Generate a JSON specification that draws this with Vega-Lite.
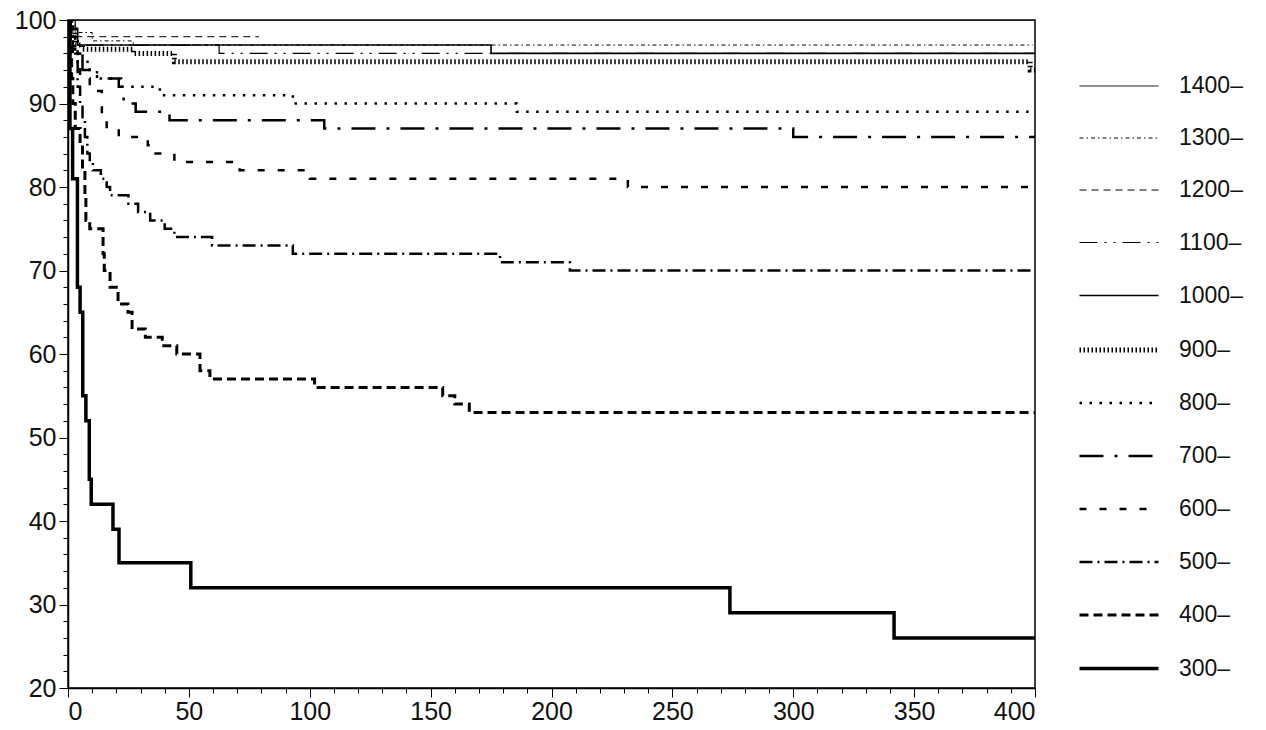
{
  "$schema": "https://vega.github.io/schema/vega-lite/v6.json",
  "width": 967,
  "height": 668,
  "autosize": {"type": "none"},
  "padding": {"left": 68, "top": 20, "right": 231, "bottom": 42},
  "background": "white",
  "config": {
    "view": {"stroke": "black", "strokeWidth": 1.5},
    "axis": {
      "domainColor": "black",
      "domainWidth": 1.5,
      "tickColor": "black",
      "labelColor": "#111",
      "labelFont": "Liberation Sans",
      "labelFontSize": 25,
      "grid": false,
      "title": null,
      "labelOverlap": false
    }
  },
  "data": {
    "values": [
      {"g": "1400–", "x": 0, "y": 100}, {"g": "1400–", "x": 400, "y": 100},
      {"g": "1300–", "x": 0, "y": 100}, {"g": "1300–", "x": 3, "y": 98.5}, {"g": "1300–", "x": 10, "y": 97.5}, {"g": "1300–", "x": 27, "y": 97}, {"g": "1300–", "x": 399, "y": 97},
      {"g": "1200–", "x": 0, "y": 100}, {"g": "1200–", "x": 2, "y": 98}, {"g": "1200–", "x": 79, "y": 98},
      {"g": "1100–", "x": 0, "y": 100}, {"g": "1100–", "x": 3, "y": 97}, {"g": "1100–", "x": 62.5, "y": 96}, {"g": "1100–", "x": 400, "y": 96},
      {"g": "1000–", "x": 0, "y": 100}, {"g": "1000–", "x": 1, "y": 99}, {"g": "1000–", "x": 4, "y": 97}, {"g": "1000–", "x": 175, "y": 96}, {"g": "1000–", "x": 400, "y": 96},
      {"g": "900–", "x": 0, "y": 100}, {"g": "900–", "x": 1, "y": 99}, {"g": "900–", "x": 3, "y": 97}, {"g": "900–", "x": 6, "y": 96.5}, {"g": "900–", "x": 27, "y": 96}, {"g": "900–", "x": 44, "y": 95}, {"g": "900–", "x": 396, "y": 95}, {"g": "900–", "x": 398, "y": 94}, {"g": "900–", "x": 400, "y": 94},
      {"g": "800–", "x": 0, "y": 100}, {"g": "800–", "x": 2, "y": 97.5}, {"g": "800–", "x": 4, "y": 95}, {"g": "800–", "x": 9, "y": 94}, {"g": "800–", "x": 12, "y": 93}, {"g": "800–", "x": 22, "y": 92}, {"g": "800–", "x": 38, "y": 91}, {"g": "800–", "x": 93, "y": 90}, {"g": "800–", "x": 185.7, "y": 89}, {"g": "800–", "x": 400, "y": 89},
      {"g": "700–", "x": 0, "y": 100}, {"g": "700–", "x": 1, "y": 98}, {"g": "700–", "x": 3, "y": 96}, {"g": "700–", "x": 6, "y": 94}, {"g": "700–", "x": 12, "y": 93}, {"g": "700–", "x": 21, "y": 92}, {"g": "700–", "x": 23, "y": 90}, {"g": "700–", "x": 28, "y": 89}, {"g": "700–", "x": 42, "y": 88}, {"g": "700–", "x": 106, "y": 87}, {"g": "700–", "x": 300, "y": 86}, {"g": "700–", "x": 400, "y": 86},
      {"g": "600–", "x": 0, "y": 100}, {"g": "600–", "x": 1, "y": 98}, {"g": "600–", "x": 3, "y": 96}, {"g": "600–", "x": 5, "y": 93}, {"g": "600–", "x": 9, "y": 91.5}, {"g": "600–", "x": 14, "y": 88.5}, {"g": "600–", "x": 16, "y": 87}, {"g": "600–", "x": 21, "y": 86}, {"g": "600–", "x": 33, "y": 85}, {"g": "600–", "x": 35, "y": 84}, {"g": "600–", "x": 44, "y": 83}, {"g": "600–", "x": 71, "y": 82}, {"g": "600–", "x": 100, "y": 81}, {"g": "600–", "x": 231.6, "y": 80}, {"g": "600–", "x": 398, "y": 80},
      {"g": "500–", "x": 0, "y": 100}, {"g": "500–", "x": 1, "y": 98}, {"g": "500–", "x": 2, "y": 96}, {"g": "500–", "x": 4, "y": 92}, {"g": "500–", "x": 5, "y": 90}, {"g": "500–", "x": 6, "y": 88}, {"g": "500–", "x": 7, "y": 86}, {"g": "500–", "x": 8, "y": 84}, {"g": "500–", "x": 9, "y": 83}, {"g": "500–", "x": 10.3, "y": 82}, {"g": "500–", "x": 13.6, "y": 81}, {"g": "500–", "x": 16, "y": 80}, {"g": "500–", "x": 17.4, "y": 79}, {"g": "500–", "x": 25, "y": 78}, {"g": "500–", "x": 29, "y": 77}, {"g": "500–", "x": 34, "y": 76}, {"g": "500–", "x": 40, "y": 75}, {"g": "500–", "x": 44, "y": 74}, {"g": "500–", "x": 59.6, "y": 73}, {"g": "500–", "x": 93, "y": 72}, {"g": "500–", "x": 178.7, "y": 71}, {"g": "500–", "x": 207.6, "y": 70}, {"g": "500–", "x": 400, "y": 70},
      {"g": "400–", "x": 0, "y": 100}, {"g": "400–", "x": 1, "y": 96}, {"g": "400–", "x": 1.5, "y": 93}, {"g": "400–", "x": 2, "y": 90}, {"g": "400–", "x": 3, "y": 87}, {"g": "400–", "x": 5, "y": 85}, {"g": "400–", "x": 6, "y": 82}, {"g": "400–", "x": 7, "y": 79}, {"g": "400–", "x": 7.4, "y": 76}, {"g": "400–", "x": 9, "y": 75}, {"g": "400–", "x": 14.5, "y": 72}, {"g": "400–", "x": 15, "y": 70}, {"g": "400–", "x": 17.4, "y": 68}, {"g": "400–", "x": 20.7, "y": 66}, {"g": "400–", "x": 24.8, "y": 65}, {"g": "400–", "x": 26.5, "y": 63}, {"g": "400–", "x": 32, "y": 62}, {"g": "400–", "x": 39, "y": 61}, {"g": "400–", "x": 45, "y": 60}, {"g": "400–", "x": 54.6, "y": 58}, {"g": "400–", "x": 58.7, "y": 57}, {"g": "400–", "x": 102, "y": 56}, {"g": "400–", "x": 155, "y": 55}, {"g": "400–", "x": 160, "y": 54}, {"g": "400–", "x": 166, "y": 53}, {"g": "400–", "x": 400, "y": 53},
      {"g": "300–", "x": 0, "y": 100}, {"g": "300–", "x": 0.8, "y": 87}, {"g": "300–", "x": 1.9, "y": 81}, {"g": "300–", "x": 3.9, "y": 68}, {"g": "300–", "x": 5, "y": 65}, {"g": "300–", "x": 6.1, "y": 55}, {"g": "300–", "x": 7.4, "y": 52}, {"g": "300–", "x": 8.8, "y": 45}, {"g": "300–", "x": 9.6, "y": 42}, {"g": "300–", "x": 18.6, "y": 39}, {"g": "300–", "x": 21.1, "y": 35}, {"g": "300–", "x": 50.8, "y": 32}, {"g": "300–", "x": 273.8, "y": 29}, {"g": "300–", "x": 341.7, "y": 26}, {"g": "300–", "x": 400, "y": 26}
    ]
  },
  "mark": {"type": "line", "interpolate": "step-after", "color": "black", "clip": true},
  "encoding": {
    "x": {
      "field": "x", "type": "quantitative",
      "scale": {"domain": [0, 400], "nice": false, "zero": false},
      "axis": {
        "values": [0,10,20,30,40,50,60,70,80,90,100,110,120,130,140,150,160,170,180,190,200,210,220,230,240,250,260,270,280,290,300,310,320,330,340,350,360,370,380,390,400],
        "labelExpr": "datum.value % 50 === 0 ? datum.label : ''",
        "tickSize": {"condition": {"test": "datum.value % 50 === 0", "value": 9}, "value": 5},
        "labelPadding": 2
      }
    },
    "y": {
      "field": "y", "type": "quantitative",
      "scale": {"domain": [20, 100], "nice": false, "zero": false},
      "axis": {
        "values": [20,22,24,26,28,30,32,34,36,38,40,42,44,46,48,50,52,54,56,58,60,62,64,66,68,70,72,74,76,78,80,82,84,86,88,90,92,94,96,98,100],
        "labelExpr": "datum.value % 10 === 0 ? datum.label : ''",
        "tickSize": {"condition": {"test": "datum.value % 10 === 0", "value": 9}, "value": 5},
        "labelPadding": 3
      }
    },
    "strokeDash": {
      "field": "g", "type": "ordinal",
      "sort": ["1400–","1300–","1200–","1100–","1000–","900–","800–","700–","600–","500–","400–","300–"],
      "scale": {
        "type": "ordinal",
        "domain": ["1400–","1300–","1200–","1100–","1000–","900–","800–","700–","600–","500–","400–","300–"],
        "range": [[1,0],[4,3,1.5,3],[7,5],[18,7,2,7,2,7],[1,0],[1.5,2.5],[2.5,7.5],[24,11,3,11],[7,13],[13,5,2,5],[9,5],[1,0]]
      },
      "legend": {
        "orient": "none", "legendX": 1009, "legendY": 26, "title": null,
        "symbolType": "stroke", "symbolSize": 6241, "symbolStrokeColor": "black",
        "labelFont": "Liberation Sans", "labelFontSize": 23, "labelColor": "#111",
        "labelOffset": 18, "rowPadding": 0
      }
    },
    "strokeWidth": {
      "field": "g", "type": "ordinal",
      "sort": ["1400–","1300–","1200–","1100–","1000–","900–","800–","700–","600–","500–","400–","300–"],
      "scale": {
        "type": "ordinal",
        "domain": ["1400–","1300–","1200–","1100–","1000–","900–","800–","700–","600–","500–","400–","300–"],
        "range": [1, 1, 1, 1.2, 1.6, 5, 2.5, 2.5, 2.5, 2.5, 3, 3.5]
      },
      "legend": {
        "orient": "none", "legendX": 1009, "legendY": 26, "title": null,
        "symbolType": "stroke", "symbolSize": 6241, "symbolStrokeColor": "black",
        "labelFont": "Liberation Sans", "labelFontSize": 23, "labelColor": "#111",
        "labelOffset": 18, "rowPadding": 0
      }
    }
  }
}
